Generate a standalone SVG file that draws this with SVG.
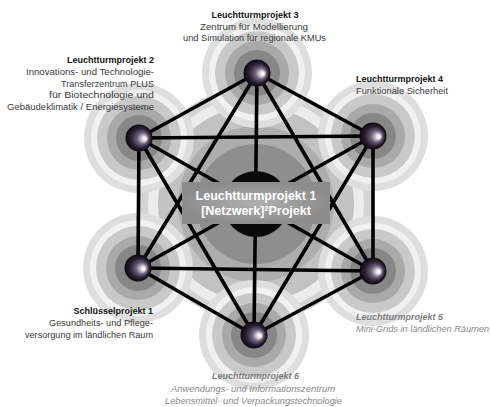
<svg xmlns="http://www.w3.org/2000/svg" width="490" height="407" viewBox="0 0 490 407">
<defs>
<radialGradient id="sph" cx="50%" cy="50%" r="50%" fx="74%" fy="53%">
<stop offset="0%" stop-color="#ffffff"/>
<stop offset="14%" stop-color="#eceaee"/>
<stop offset="42%" stop-color="#6c6278"/>
<stop offset="72%" stop-color="#2a2232"/>
<stop offset="100%" stop-color="#0a0610"/>
</radialGradient>
<radialGradient id="boxg" cx="50%" cy="50%" r="50%">
<stop offset="0%" stop-color="#b0b0b0"/>
<stop offset="100%" stop-color="#8c8c8c"/>
</radialGradient>
<g id="halo">
<circle r="55" fill="#dedede"/>
<circle r="48" fill="#f1f1f1"/>
<circle r="42" fill="#c9c9c9"/>
<circle r="32" fill="#a9a9a9"/>
<circle r="23" fill="#878787"/>
</g>
</defs>
<style>
.edge{stroke:#000;stroke-width:3.6;stroke-linecap:round}
.sphere{fill:url(#sph)}
text{font-family:"Liberation Sans",Arial,sans-serif;font-size:9px;fill:#3a3a3a}
.t{font-weight:bold;fill:#111}
.gi{font-style:italic;fill:#8a8a8a}
.gt{font-style:italic;font-weight:bold;fill:#7c7c7c}
.c{font-weight:bold;font-size:12.5px;fill:#ffffff}
</style>
<rect width="490" height="407" fill="#ffffff"/>
<g id="background">
<circle cx="256" cy="204" r="118" fill="#d4d4d4"/>
<circle cx="256" cy="204" r="108" fill="#ececec"/>
<circle cx="256" cy="204" r="98" fill="#c2c2c2"/>
<circle cx="256" cy="204" r="78" fill="#adadad"/>
<use href="#halo" x="257" y="73"/>
<use href="#halo" x="373" y="136"/>
<use href="#halo" x="373" y="271"/>
<use href="#halo" x="254" y="335"/>
<use href="#halo" x="138" y="268"/>
<use href="#halo" x="139" y="138"/>
<circle cx="256" cy="204" r="60" fill="#8e8e8e"/>
</g>
<g id="connectors">
<line class="edge" x1="139" y1="138" x2="257" y2="73"/>
<line class="edge" x1="257" y1="73" x2="373" y2="136"/>
<line class="edge" x1="373" y1="136" x2="373" y2="271"/>
<line class="edge" x1="373" y1="271" x2="254" y2="335"/>
<line class="edge" x1="254" y1="335" x2="138" y2="268"/>
<line class="edge" x1="138" y1="268" x2="139" y2="138"/>
<line class="edge" x1="139" y1="138" x2="373" y2="136"/>
<line class="edge" x1="373" y1="136" x2="254" y2="335"/>
<line class="edge" x1="254" y1="335" x2="139" y2="138"/>
<line class="edge" x1="257" y1="73" x2="373" y2="271"/>
<line class="edge" x1="373" y1="271" x2="138" y2="268"/>
<line class="edge" x1="138" y1="268" x2="257" y2="73"/>
<line class="edge" x1="139" y1="138" x2="373" y2="271"/>
<line class="edge" x1="257" y1="73" x2="254" y2="335"/>
<line class="edge" x1="373" y1="136" x2="138" y2="268"/>
</g>
<g id="node-lp1">
<circle cx="256" cy="204" r="33" fill="#0a0a0a"/>
<rect x="182" y="182" width="148" height="42" fill="url(#boxg)"/>
<text class="c" x="256" y="200" text-anchor="middle">Leuchtturmprojekt 1</text>
<text class="c" x="256" y="215" text-anchor="middle">[Netzwerk]²Projekt</text>
</g>
<g id="node-lp3">
<circle class="sphere" cx="257" cy="73" r="13.5"/>
<text class="t" x="255" y="18" text-anchor="middle">Leuchtturmprojekt 3</text>
<text x="254" y="29.5" text-anchor="middle" textLength="108" lengthAdjust="spacingAndGlyphs">Zentrum für Modellierung</text>
<text x="254.5" y="41" text-anchor="middle" textLength="143" lengthAdjust="spacingAndGlyphs">und Simulation für regionale KMUs</text>
</g>
<g id="node-lp2">
<circle class="sphere" cx="139" cy="138" r="13.5"/>
<text class="t" x="154" y="63" text-anchor="end">Leuchtturmprojekt 2</text>
<text x="154" y="75" text-anchor="end" textLength="128" lengthAdjust="spacingAndGlyphs">Innovations- und Technologie-</text>
<text x="154" y="86.5" text-anchor="end" textLength="93" lengthAdjust="spacingAndGlyphs">Transferzentrum PLUS</text>
<text x="154" y="98" text-anchor="end" textLength="105" lengthAdjust="spacingAndGlyphs">für Biotechnologie und</text>
<text x="154" y="109.5" text-anchor="end" textLength="147" lengthAdjust="spacingAndGlyphs">Gebäudeklimatik / Energiesysteme</text>
</g>
<g id="node-lp4">
<circle class="sphere" cx="373" cy="136" r="13.5"/>
<text class="t" x="356" y="82">Leuchtturmprojekt 4</text>
<text x="356" y="93.5" textLength="92" lengthAdjust="spacingAndGlyphs">Funktionale Sicherheit</text>
</g>
<g id="node-lp5">
<circle class="sphere" cx="373" cy="271" r="13.5"/>
<text class="gt" x="356" y="320">Leuchtturmprojekt 5</text>
<text class="gi" x="356" y="332" textLength="133" lengthAdjust="spacingAndGlyphs">Mini-Grids in ländlichen Räumen</text>
</g>
<g id="node-lp6">
<circle class="sphere" cx="254" cy="335" r="13.5"/>
<text class="gt" x="255.5" y="379" text-anchor="middle">Leuchtturmprojekt 6</text>
<text class="gi" x="253" y="391.5" text-anchor="middle" textLength="164" lengthAdjust="spacingAndGlyphs">Anwendungs- und Informationszentrum</text>
<text class="gi" x="253.5" y="403.5" text-anchor="middle" textLength="177" lengthAdjust="spacingAndGlyphs">Lebensmittel- und Verpackungstechnologie</text>
</g>
<g id="node-sp1">
<circle class="sphere" cx="138" cy="268" r="13.5"/>
<text class="t" x="153" y="314" text-anchor="end">Schlüsselprojekt 1</text>
<text x="153" y="326" text-anchor="end" textLength="104" lengthAdjust="spacingAndGlyphs">Gesundheits- und Pflege-</text>
<text x="153" y="337.5" text-anchor="end" textLength="128" lengthAdjust="spacingAndGlyphs">versorgung im ländlichen Raum</text>
</g>
</svg>
